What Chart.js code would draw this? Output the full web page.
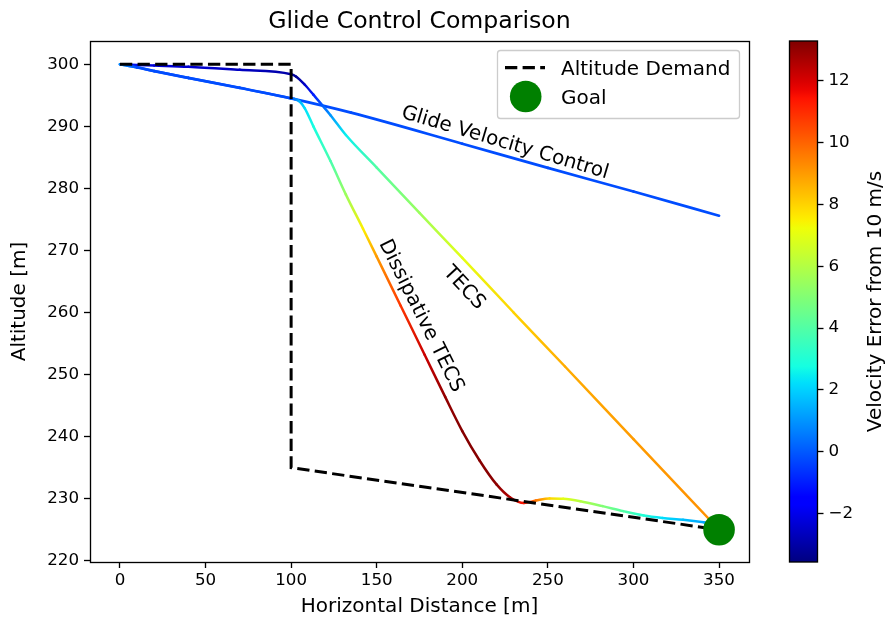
<!DOCTYPE html>
<html>
<head>
<meta charset="utf-8">
<script src="https://cdn.jsdelivr.net/npm/chart.js@4.4.1/dist/chart.umd.min.js"></script>
<style>
  html, body { margin: 0; padding: 0; background: #ffffff; }
  #wrap { width: 885px; height: 625px; position: relative; }
</style>
</head>
<body>
<div id="wrap"><canvas id="c" width="885" height="625"></canvas></div>
<script>
// Tick positions
const xTicks = [0, 50, 100, 150, 200, 250, 300, 350];
const yTicks = [220, 230, 240, 250, 260, 270, 280, 290, 300];
const cbTicks = [-2, 0, 2, 4, 6, 8, 10, 12];

// Altitude demand profile
const demandX = [0, 100, 100, 350];
const demandAlt = [300, 300, 235, 225];

// Glide velocity control trajectory
const glideX   = [0, 10, 20, 40, 70, 100, 135, 200, 250, 300, 350];
const glideAlt = [300, 299.5, 298.9, 297.8, 296.2, 294.5, 292.2, 287.2, 283.3, 279.5, 275.6];
const glideErr = [1.0, -0.2, -0.2, -0.2, -0.2, -0.2, -0.2, -0.2, -0.2, -0.2, -0.2];

// TECS trajectory
const tecsX   = [0, 20, 40, 70, 100, 103, 108, 113, 123, 132, 150, 175, 200, 230, 260, 300, 348];
const tecsAlt = [300, 299.8, 299.6, 299.1, 298.4, 298.0, 296.7, 295.1, 291.8, 288.6, 283.35, 276.05, 268.8, 260.0, 251.3, 239.6, 225.6];
const tecsErr = [-1.0, -2.3, -2.4, -2.6, -3.0, -3.3, -2.5, -1.0, 1.0, 2.5, 4.0, 5.5, 7.0, 8.0, 8.7, 9.0, 9.2];

// Dissipative TECS trajectory
const dissX   = [0, 10, 20, 40, 70, 100, 102, 105, 108, 113, 123, 132, 142, 150, 164, 178, 190, 200, 210, 220, 228, 236, 243, 251, 259, 269, 282, 294, 306, 317, 329, 341, 348];
const dissAlt = [300, 299.5, 298.9, 297.8, 296.2, 294.5, 294.4, 294.0, 292.9, 290.0, 284.4, 279.0, 273.5, 269.0, 261.1, 253.2, 246.4, 240.9, 236.2, 232.3, 230.2, 229.3, 229.7, 230.05, 230.0, 229.6, 228.8, 228.0, 227.3, 226.9, 226.6, 226.2, 225.9];
const dissErr = [1.0, -0.2, -0.2, -0.2, -0.2, -0.2, 0.5, 1.5, 2.2, 2.8, 3.8, 5.5, 7.5, 9.0, 10.8, 12.2, 13.0, 13.2, 13.2, 13.1, 12.6, 11.4, 9.7, 8.0, 7.0, 6.0, 5.0, 4.0, 3.0, 2.2, 1.7, 1.3, 1.2];

// Goal point
const goalX = [350];
const goalAlt = [225];

// Colour scale limits for velocity error
const errMin = -3.57;
const errMax = 13.29;

const FONT = '"DejaVu Sans", "Liberation Sans", sans-serif';
const TICK_PX = 16.7;
const LABEL_PX = 20;
const TITLE_PX = 23.6;

// matplotlib "jet" colormap
const JET_R = [[0, 0], [0.35, 0], [0.66, 1], [0.89, 1], [1, 0.5]];
const JET_G = [[0, 0], [0.125, 0], [0.375, 1], [0.64, 1], [0.91, 0], [1, 0]];
const JET_B = [[0, 0.5], [0.11, 1], [0.34, 1], [0.65, 0], [1, 0]];
function piece(stops, t) {
  if (t <= stops[0][0]) return stops[0][1];
  for (let i = 1; i < stops.length; i++) {
    if (t <= stops[i][0]) {
      const [t0, v0] = stops[i - 1], [t1, v1] = stops[i];
      return v0 + (v1 - v0) * (t - t0) / (t1 - t0);
    }
  }
  return stops[stops.length - 1][1];
}
function jetT(t) {
  t = Math.min(1, Math.max(0, t));
  const r = Math.round(piece(JET_R, t) * 255);
  const g = Math.round(piece(JET_G, t) * 255);
  const b = Math.round(piece(JET_B, t) * 255);
  return `rgb(${r},${g},${b})`;
}
function jet(v) { return jetT((v - errMin) / (errMax - errMin)); }

function pts(xs, ys) { return xs.map((x, i) => ({ x: x, y: ys[i] })); }

// Each segment is stroked with a gradient between the colours of its two end points
function errSegment(err) {
  return {
    borderColor: c => {
      const p0 = c.p0, p1 = c.p1;
      if (Math.abs(p0.x - p1.x) < 0.01 && Math.abs(p0.y - p1.y) < 0.01) return jet(err[c.p0DataIndex]);
      const g = c.chart.ctx.createLinearGradient(p0.x, p0.y, p1.x, p1.y);
      g.addColorStop(0, jet(err[c.p0DataIndex]));
      g.addColorStop(1, jet(err[c.p1DataIndex]));
      return g;
    },
    borderDashOffset: c => c.p0DataIndex * 0.001
  };
}

function fixTicks(list) {
  return scale => { scale.ticks = list.map(v => ({ value: v })); };
}

const DASH = [12.3, 5.3];

const decor = {
  id: 'decor',
  beforeDraw(chart) {
    const ctx = chart.ctx;
    ctx.save();
    ctx.fillStyle = '#ffffff';
    ctx.fillRect(0, 0, chart.width, chart.height);
    ctx.restore();
  },
  afterLayout(chart) {
    // colour bar axis sits to the right of the bar
    const s = chart.scales.cb;
    s.left = 817.5;
    s.right = 885;
  },
  afterDatasetsDraw(chart) {
    const ctx = chart.ctx;
    const a = chart.chartArea;
    ctx.save();
    // axes frame
    ctx.strokeStyle = '#000000';
    ctx.lineWidth = 1.33;
    ctx.strokeRect(a.left + 0.5, a.top + 0.5, a.right - a.left, a.bottom - a.top);

    // inline line labels
    ctx.fillStyle = '#000000';
    ctx.font = LABEL_PX + 'px ' + FONT;
    ctx.textAlign = 'center';
    ctx.textBaseline = 'middle';
    const labels = [
      ['Glide Velocity Control', 505, 143, 16.5],
      ['TECS', 464, 288, 47],
      ['Dissipative TECS', 421, 316, 63.5]
    ];
    for (const [t, x, y, deg] of labels) {
      ctx.save();
      ctx.translate(x, y);
      ctx.rotate(deg * Math.PI / 180);
      ctx.fillText(t, 0, 0);
      ctx.restore();
    }

    // legend
    const lx = 497.5, ly = 50.5, lw = 242, lh = 68;
    ctx.beginPath();
    ctx.roundRect(lx, ly, lw, lh, 3);
    ctx.fillStyle = 'rgba(255,255,255,0.8)';
    ctx.fill();
    ctx.strokeStyle = '#cccccc';
    ctx.lineWidth = 1.3;
    ctx.stroke();

    ctx.strokeStyle = '#000000';
    ctx.lineWidth = 3.2;
    ctx.setLineDash(DASH);
    ctx.beginPath();
    ctx.moveTo(505, 67.7);
    ctx.lineTo(545, 67.7);
    ctx.stroke();
    ctx.setLineDash([]);

    ctx.fillStyle = '#008000';
    ctx.beginPath();
    ctx.arc(525.7, 96.5, 15.8, 0, Math.PI * 2);
    ctx.fill();

    ctx.fillStyle = '#000000';
    ctx.textAlign = 'left';
    ctx.textBaseline = 'alphabetic';
    ctx.fillText('Altitude Demand', 561, 75);
    ctx.fillText('Goal', 561, 104);
    ctx.restore();
  },
  afterDraw(chart) {
    const ctx = chart.ctx;
    const a = chart.chartArea;
    const cb = chart.scales.cb;
    ctx.save();
    // title
    ctx.fillStyle = '#000000';
    ctx.font = TITLE_PX + 'px ' + FONT;
    ctx.textAlign = 'center';
    ctx.textBaseline = 'alphabetic';
    ctx.fillText('Glide Control Comparison', (a.left + a.right) / 2, 28);

    // colour bar
    const top = cb.getPixelForValue(errMax);
    const bot = cb.getPixelForValue(errMin);
    const bx0 = 789.5, bx1 = 817.5;
    const grad = ctx.createLinearGradient(0, bot, 0, top);
    for (let i = 0; i <= 64; i++) grad.addColorStop(i / 64, jetT(i / 64));
    ctx.fillStyle = grad;
    ctx.fillRect(bx0, top, bx1 - bx0, bot - top);
    ctx.strokeStyle = '#000000';
    ctx.lineWidth = 1.33;
    ctx.strokeRect(bx0, top, bx1 - bx0, bot - top);

    // colour bar label
    ctx.fillStyle = '#000000';
    ctx.font = LABEL_PX + 'px ' + FONT;
    ctx.textAlign = 'center';
    ctx.textBaseline = 'middle';
    ctx.translate(876, (top + bot) / 2);
    ctx.rotate(-Math.PI / 2);
    ctx.fillText('Velocity Error from 10 m/s', 0, 0);
    ctx.restore();
  }
};

const tickFont = { family: FONT, size: TICK_PX };
const labelFont = { family: FONT, size: LABEL_PX };
const minusFmt = v => (v < 0 ? '\u2212' + Math.abs(v) : String(v));
const tickGrid = { drawOnChartArea: false, drawTicks: true, tickLength: 6, tickColor: '#000000', tickWidth: 1.33 };

new Chart(document.getElementById('c'), {
  type: 'line',
  data: {
    datasets: [
      {
        label: 'Goal',
        data: pts(goalX, goalAlt),
        showLine: false,
        pointRadius: 15.8,
        pointHoverRadius: 15.8,
        pointBackgroundColor: '#008000',
        pointBorderColor: '#008000',
        pointBorderWidth: 0,
        order: 0,
        clip: false
      },
      {
        label: 'Altitude Demand',
        data: pts(demandX, demandAlt),
        borderColor: '#000000',
        borderWidth: 3.0,
        borderDash: DASH,
        borderCapStyle: 'butt',
        pointRadius: 0,
        fill: false,
        order: 1
      },
      {
        label: 'Dissipative TECS',
        data: pts(dissX, dissAlt),
        borderWidth: 2.5,
        borderColor: jet(0),
        borderCapStyle: 'round',
        borderJoinStyle: 'round',
        cubicInterpolationMode: 'monotone',
        pointRadius: 0,
        fill: false,
        segment: errSegment(dissErr),
        order: 2
      },
      {
        label: 'TECS',
        data: pts(tecsX, tecsAlt),
        borderWidth: 2.5,
        borderColor: jet(0),
        borderCapStyle: 'round',
        borderJoinStyle: 'round',
        cubicInterpolationMode: 'monotone',
        pointRadius: 0,
        fill: false,
        segment: errSegment(tecsErr),
        order: 3
      },
      {
        label: 'Glide Velocity Control',
        data: pts(glideX, glideAlt),
        borderWidth: 2.7,
        borderColor: jet(0),
        borderCapStyle: 'round',
        borderJoinStyle: 'round',
        cubicInterpolationMode: 'monotone',
        pointRadius: 0,
        fill: false,
        segment: errSegment(glideErr),
        order: 4
      }
    ]
  },
  options: {
    responsive: false,
    animation: false,
    devicePixelRatio: 1,
    events: [],
    layout: { padding: { top: 41, left: 0, right: 0, bottom: 0 } },
    plugins: {
      legend: { display: false },
      tooltip: { enabled: false },
      title: { display: false }
    },
    scales: {
      x: {
        type: 'linear',
        position: 'bottom',
        min: -17.5,
        max: 367.5,
        afterBuildTicks: fixTicks(xTicks),
        afterFit: s => { s.height = 63; },
        grid: tickGrid,
        border: { display: false },
        ticks: { font: tickFont, color: '#000000', padding: 3, maxRotation: 0, autoSkip: false },
        title: { display: true, text: 'Horizontal Distance [m]', font: labelFont, color: '#000000', padding: { top: 0, bottom: 6 } }
      },
      y: {
        type: 'linear',
        position: 'left',
        min: 219.8,
        max: 303.75,
        afterBuildTicks: fixTicks(yTicks),
        afterFit: s => { s.width = 90; },
        grid: tickGrid,
        border: { display: false },
        ticks: { font: tickFont, color: '#000000', padding: 5, autoSkip: false },
        title: { display: true, text: 'Altitude [m]', font: labelFont, color: '#000000', padding: { top: 8, bottom: 0 } }
      },
      cb: {
        type: 'linear',
        position: 'right',
        axis: 'y',
        min: errMin,
        max: errMax,
        afterBuildTicks: fixTicks(cbTicks),
        afterFit: s => { s.width = 136; },
        grid: tickGrid,
        border: { display: false },
        ticks: { font: tickFont, color: '#000000', padding: 5, autoSkip: false, callback: v => minusFmt(v) }
      }
    }
  },
  plugins: [decor]
});
</script>
</body>
</html>
